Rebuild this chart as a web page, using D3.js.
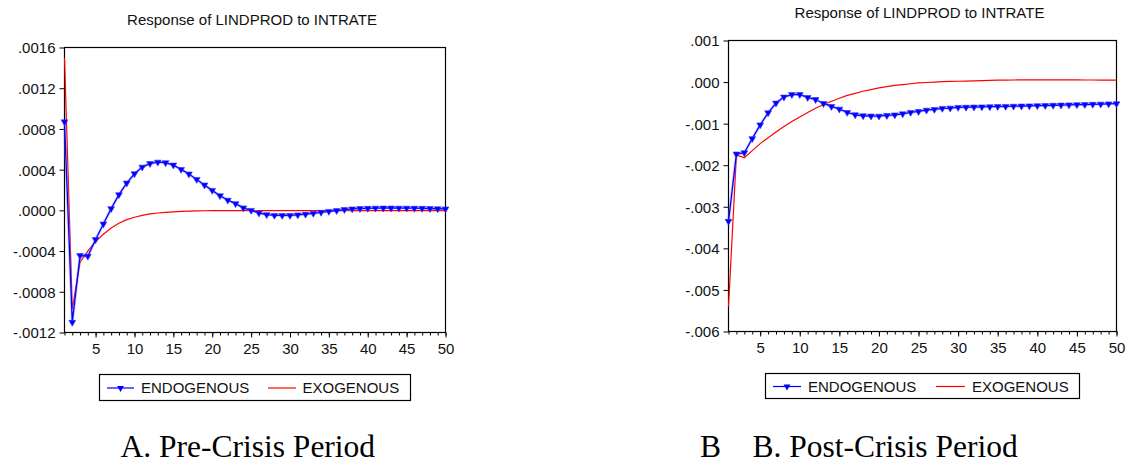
<!DOCTYPE html>
<html>
<head>
<meta charset="utf-8">
<script src="https://cdn.jsdelivr.net/npm/d3@7"></script>
<style>
  html, body { margin: 0; padding: 0; background: #fff; }
  svg { display: block; }
  .lbl { font-family: "Liberation Sans", Arial, sans-serif; font-size: 15px; fill: #111; }
  .cap { font-family: "Liberation Serif", "Times New Roman", serif; font-size: 31.5px; fill: #000; }
</style>
</head>
<body>
<svg id="chart" width="1130" height="464"></svg>
<script>
// Forecast horizon (periods)
const periods = [1,2,3,4,5,6,7,8,9,10,11,12,13,14,15,16,17,18,19,20,
  21,22,23,24,25,26,27,28,29,30,31,32,33,34,35,36,37,38,39,40,
  41,42,43,44,45,46,47,48,49,50];
const xTickValues = [5,10,15,20,25,30,35,40,45,50];

// Panel A: pre-crisis responses
const preEndogenous = [0.00087,-0.00110,-0.000444,-0.00045,-0.000287,-0.000134,0.000017,0.000154,0.000268,0.00036,
  0.000425,0.00046,0.000474,0.000468,0.000445,0.000402,0.000357,0.000304,0.000249,0.000196,
  0.000144,0.0001,0.000066,0.000024,0.0,-0.000026,-0.000042,-0.000049,-0.00005,-0.00005,
  -0.000045,-0.000038,-0.00003,-0.000019,-0.00001,-0.000002,0.000008,0.000014,0.000018,0.00002,
  0.000022,0.000023,0.000023,0.000022,0.000022,0.000021,0.00002,0.000018,0.000016,0.000014];
const preExogenous = [0.0015,-0.00097,-0.00051,-0.0004,-0.000304,-0.000235,-0.000173,-0.000127,-0.000091,-0.000068,
  -0.000049,-0.000035,-0.000026,-0.000019,-0.000014,-0.00001,-0.0000075,-0.0000055,-0.000004,-0.000003,
  -0.000002,-0.000002,-0.000002,-0.000002,-0.000002,-0.000002,-0.000002,-0.000002,-0.000002,-0.000002,
  -0.000002,-0.000002,-0.000002,-0.000002,-0.000002,-0.000002,-0.000002,-0.000002,-0.000002,-0.000002,
  -0.000002,-0.000002,-0.000002,-0.000002,-0.000002,-0.000002,-0.000002,-0.000002,-0.000002,-0.000002];
const preYTicks = [0.0016,0.0012,0.0008,0.0004,0.0,-0.0004,-0.0008,-0.0012];
const preYLabels = [".0016",".0012",".0008",".0004",".0000","-.0004","-.0008","-.0012"];

// Panel B: post-crisis responses
const postEndogenous = [-0.00335,-0.00173,-0.0017,-0.00136,-0.00103,-0.00074,-0.000505,-0.00036,-0.0003,-0.0003,
  -0.00037,-0.00042,-0.000515,-0.000587,-0.00065,-0.00073,-0.000787,-0.00081,-0.000818,-0.00082,
  -0.000803,-0.00079,-0.000763,-0.00073,-0.000707,-0.000675,-0.000658,-0.000634,-0.000626,-0.00061,
  -0.000605,-0.0006,-0.000597,-0.000593,-0.000589,-0.000585,-0.00058,-0.000576,-0.000572,-0.000568,
  -0.000563,-0.000558,-0.000553,-0.000549,-0.000544,-0.00054,-0.000535,-0.00053,-0.000525,-0.00052];
const postExogenous = [-0.0054,-0.00175,-0.00182,-0.00165,-0.00148,-0.00134,-0.0012,-0.00107,-0.00095,-0.00084,
  -0.00073,-0.00063,-0.00054,-0.00046,-0.00039,-0.00032,-0.00027,-0.00022,-0.00018,-0.00014,
  -0.00011,-0.00008,-0.00006,-0.00004,-0.00002,-0.00001,0.0,0.00001,0.000015,0.00002,
  0.000025,0.00003,0.000035,0.00004,0.000045,0.000048,0.00005,0.000052,0.000052,0.000052,
  0.000052,0.000052,0.000052,0.000052,0.000052,0.00005,0.00005,0.000049,0.000048,0.000048];
const postYTicks = [0.001,0.0,-0.001,-0.002,-0.003,-0.004,-0.005,-0.006];
const postYLabels = [".001",".000","-.001","-.002","-.003","-.004","-.005","-.006"];

const titleText = "Response of LINDPROD to INTRATE";
const seriesNames = ["ENDOGENOUS", "EXOGENOUS"];
const captions = ["A. Pre-Crisis Period", "B. Post-Crisis Period"];

const BLUE = "#0000ff", RED = "#ff0000";
const svg = d3.select("#chart");

function drawPanel(p) {
  const g = svg.append("g");
  const x = d3.scaleLinear().domain([1, 50]).range([p.left, p.right]);
  const y = d3.scaleLinear().domain([p.yTicks[p.yTicks.length - 1], p.yTicks[0]]).range([p.bottom, p.top]);

  // title
  g.append("text").attr("class", "lbl")
    .attr("x", (p.left + p.right) / 2 - 3).attr("y", p.titleY)
    .attr("text-anchor", "middle").text(titleText);

  // y axis (ticks outside, custom labels)
  const yAxis = d3.axisLeft(y).tickValues(p.yTicks).tickSize(5).tickPadding(4)
    .tickFormat((d, i) => p.yLabels[i]);
  const ya = g.append("g").attr("transform", `translate(${p.left},0)`).call(yAxis);
  ya.select(".domain").remove();
  ya.selectAll("line").attr("stroke", "#000");
  ya.selectAll("text").attr("class", "lbl").attr("font-size", null).attr("font-family", null)
    .attr("fill", null).attr("dy", "0.36em");

  // x axis: minor tick every period, longer tick + label every 5
  const xMinor = d3.axisBottom(x).tickValues(periods).tickSize(3).tickFormat("");
  const xm = g.append("g").attr("transform", `translate(0,${p.bottom})`).call(xMinor);
  xm.select(".domain").remove();
  xm.selectAll("line").attr("stroke", "#000");
  const xMajor = d3.axisBottom(x).tickValues(xTickValues).tickSize(5).tickPadding(6).tickFormat(d3.format("d"));
  const xa = g.append("g").attr("transform", `translate(0,${p.bottom})`).call(xMajor);
  xa.select(".domain").remove();
  xa.selectAll("line").attr("stroke", "#000");
  xa.selectAll("text").attr("class", "lbl").attr("font-size", null).attr("font-family", null)
    .attr("fill", null).attr("dy", "0.71em");

  // frame
  g.append("rect").attr("x", p.left).attr("y", p.top)
    .attr("width", p.right - p.left).attr("height", p.bottom - p.top)
    .attr("fill", "none").attr("stroke", "#000").attr("stroke-width", 1.2);

  const line = d3.line().x((d, i) => x(periods[i])).y(d => y(d));

  // exogenous (red)
  g.append("path").datum(p.exo).attr("d", line)
    .attr("fill", "none").attr("stroke", RED).attr("stroke-width", 1.2);

  // endogenous (blue) with a soft halo and down-triangle markers
  g.append("path").datum(p.endo).attr("d", line)
    .attr("fill", "none").attr("stroke", "#8080ff").attr("stroke-opacity", 0.35).attr("stroke-width", 3);
  g.append("path").datum(p.endo).attr("d", line)
    .attr("fill", "none").attr("stroke", BLUE).attr("stroke-width", 1.3);
  const tri = d3.symbol().type(d3.symbolTriangle).size(20);
  g.selectAll("path.mk").data(p.endo).join("path").attr("class", "mk")
    .attr("d", tri)
    .attr("transform", (d, i) => `translate(${x(periods[i])},${y(d)}) rotate(180)`)
    .attr("fill", BLUE).attr("stroke", "#3333ff").attr("stroke-width", 0.6);

  // legend
  const L = p.legend;
  g.append("rect").attr("x", L.x0).attr("y", L.y0).attr("width", L.x1 - L.x0).attr("height", L.y1 - L.y0)
    .attr("fill", "#fff").attr("stroke", "#000").attr("stroke-width", 1.2);
  const ly = (L.y0 + L.y1) / 2 + 0.5;
  g.append("line").attr("x1", L.s1a).attr("x2", L.s1b).attr("y1", ly).attr("y2", ly)
    .attr("stroke", BLUE).attr("stroke-width", 1.2);
  g.append("path").attr("d", tri)
    .attr("transform", `translate(${(L.s1a + L.s1b) / 2},${ly}) rotate(180)`).attr("fill", BLUE);
  g.append("text").attr("class", "lbl").attr("x", L.t1).attr("y", ly).attr("dy", "0.36em").text(seriesNames[0]);
  g.append("line").attr("x1", L.s2a).attr("x2", L.s2b).attr("y1", ly).attr("y2", ly)
    .attr("stroke", RED).attr("stroke-width", 1.2);
  g.append("text").attr("class", "lbl").attr("x", L.t2).attr("y", ly).attr("dy", "0.36em").text(seriesNames[1]);
}

drawPanel({
  left: 64.5, right: 445.5, top: 47.5, bottom: 332.5, titleY: 25,
  yTicks: preYTicks, yLabels: preYLabels, endo: preEndogenous, exo: preExogenous,
  legend: { x0: 99.5, x1: 410.5, y0: 374.5, y1: 400.5, s1a: 107, s1b: 134, t1: 141, s2a: 268, s2b: 296, t2: 302.5 }
});
drawPanel({
  left: 728.5, right: 1116.5, top: 40.5, bottom: 331.5, titleY: 17.5,
  yTicks: postYTicks, yLabels: postYLabels, endo: postEndogenous, exo: postExogenous,
  legend: { x0: 765.5, x1: 1079.5, y0: 373.5, y1: 398.5, s1a: 773, s1b: 801, t1: 808, s2a: 936, s2b: 965, t2: 972 }
});

// panel captions
svg.append("text").attr("class", "cap").attr("x", 120.5).attr("y", 457).text(captions[0]);
svg.append("text").attr("class", "cap").attr("x", 700).attr("y", 457).text("B");
svg.append("text").attr("class", "cap").attr("x", 752.5).attr("y", 457).text(captions[1]);
</script>
</body>
</html>
